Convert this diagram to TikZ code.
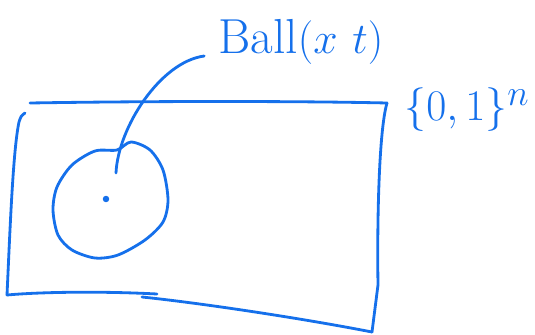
\documentclass[tikz,border=0pt]{standalone}
\usepackage{amsmath}
\usepackage{xcolor}
\usepackage{tikz}
\usetikzlibrary{arrows.meta,positioning,calc}
\definecolor{PenBlue}{HTML}{1570EB}

\begin{document}
\begin{tikzpicture}[
    x=0.02cm, y=-0.02cm,
    pen/.style={draw=PenBlue, line width=1.6pt, line cap=round, line join=round},
    tag/.style={text=PenBlue, font=\fontsize{28}{32}\selectfont, inner sep=0pt},
    dot/.style={circle, fill=PenBlue, inner sep=1.3pt}
]
\useasboundingbox (0,0) rectangle (535,335);

% 标签
\node[tag] (ball) at (301,42) {Ball$(x\ t)$};
\node[tag, font=\fontsize{31}{36}\selectfont] (cube) at (467,110) {$\{0,1\}^n$};

% 手绘矩形：上、右、下两段、左
\draw[pen] (30,103) .. controls (150,101) and (300,101) .. (387,103);
\draw[pen] (387,103) .. controls (379,130) and (377,220) .. (378,285) -- (372,332);
\draw[pen] (372,332) .. controls (300,318) and (200,303) .. (142,297);
\draw[pen] (157,294) .. controls (100,291) and (40,292) .. (7,295);
\draw[pen] (7,295) .. controls (10,230) and (13,150) .. (19,122) .. controls (21,116) .. (25,113);

% 球
\draw[pen] plot[smooth cycle] coordinates {
    (117,150) (131,142) (150,150) (163,170) (168,200) (163,222)
    (145,240) (118,255) (95,258) (72,250) (58,235) (53,210)
    (57,187) (72,165) (95,151)};
\node[dot] (centre) at (106,199) {};

% 指向球的曲线
\coordinate (tip) at (116,173);
\draw[pen] (tip) .. controls (118,128) and (160,62) .. ($(ball.west)+(-14,14)$);
\end{tikzpicture}
\end{document}
